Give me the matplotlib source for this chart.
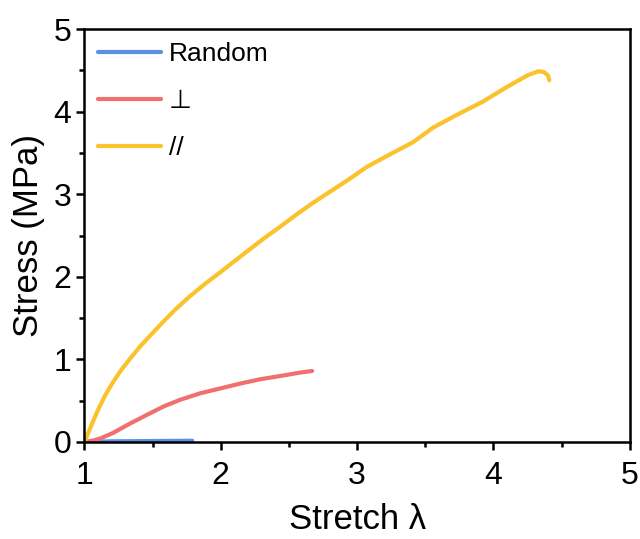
import matplotlib.pyplot as plt
from matplotlib.ticker import MultipleLocator

plt.rcParams["font.family"] = ["Liberation Sans", "DejaVu Sans"]

# stress-strain curves, stretch ratio vs stress (MPa)
rand_x = [1.0, 1.2, 1.4, 1.6, 1.79]
rand_y = [0.0, 0.008, 0.01, 0.013, 0.015]

perp_x = [1.0, 1.06, 1.12, 1.21, 1.33, 1.46, 1.58, 1.70, 1.85, 2.0, 2.15, 2.29, 2.44, 2.58, 2.67]
perp_y = [0.0, 0.015, 0.045, 0.11, 0.22, 0.33, 0.43, 0.51, 0.59, 0.65, 0.71, 0.76, 0.80, 0.84, 0.86]

par_x = [1.0, 1.03, 1.06, 1.1, 1.15, 1.2, 1.26, 1.33, 1.41, 1.5, 1.58, 1.67, 1.77,
         1.88, 2.0, 2.1, 2.21, 2.32, 2.43, 2.56, 2.68, 2.8, 2.93, 3.07, 3.26, 3.41,
         3.56, 3.73, 3.92, 4.10, 4.25, 4.33, 4.37, 4.40, 4.41]
par_y = [0.0, 0.12, 0.24, 0.39, 0.56, 0.70, 0.85, 1.0, 1.16, 1.32, 1.46, 1.61, 1.76,
         1.91, 2.06, 2.19, 2.33, 2.47, 2.60, 2.76, 2.90, 3.03, 3.17, 3.33, 3.50, 3.63,
         3.81, 3.96, 4.12, 4.30, 4.44, 4.49, 4.48, 4.44, 4.38]


def main():
    fig = plt.figure(figsize=(6.4, 5.39), dpi=100)
    ax = fig.add_axes([0.132, 0.18, 0.852, 0.766])

    lw = 3.0
    ax.plot(rand_x, rand_y, color="#5b8fe8", lw=lw, label="Random",
            solid_capstyle="round", solid_joinstyle="round")
    ax.plot(perp_x, perp_y, color="#f07070", lw=lw, label="⊥",
            solid_capstyle="round", solid_joinstyle="round")
    ax.plot(par_x, par_y, color="#fcc22c", lw=lw, label="//",
            solid_capstyle="round", solid_joinstyle="round")

    ax.set_xlim(1, 5)
    ax.set_ylim(0, 5)
    ax.xaxis.set_major_locator(MultipleLocator(1))
    ax.xaxis.set_minor_locator(MultipleLocator(0.5))
    ax.yaxis.set_major_locator(MultipleLocator(1))
    ax.yaxis.set_minor_locator(MultipleLocator(0.5))
    ax.tick_params(which="both", direction="out", width=1.8, labelsize=23)
    ax.tick_params(axis="x", pad=8)
    ax.tick_params(which="major", length=6)
    ax.tick_params(which="minor", length=3.5)
    for s in ax.spines.values():
        s.set_linewidth(1.8)

    ax.set_xlabel("Stretch λ", fontsize=25, labelpad=8)
    ax.set_ylabel("Stress (MPa)", fontsize=25, labelpad=6)

    ax.legend(loc="upper left", frameon=False, fontsize=19, handlelength=2.4,
              handletextpad=0.3, labelspacing=0.87, borderpad=0.4,
              borderaxespad=0.1)

    fig.savefig("out.png", dpi=100)
    plt.close(fig)


if __name__ == "__main__":
    main()
